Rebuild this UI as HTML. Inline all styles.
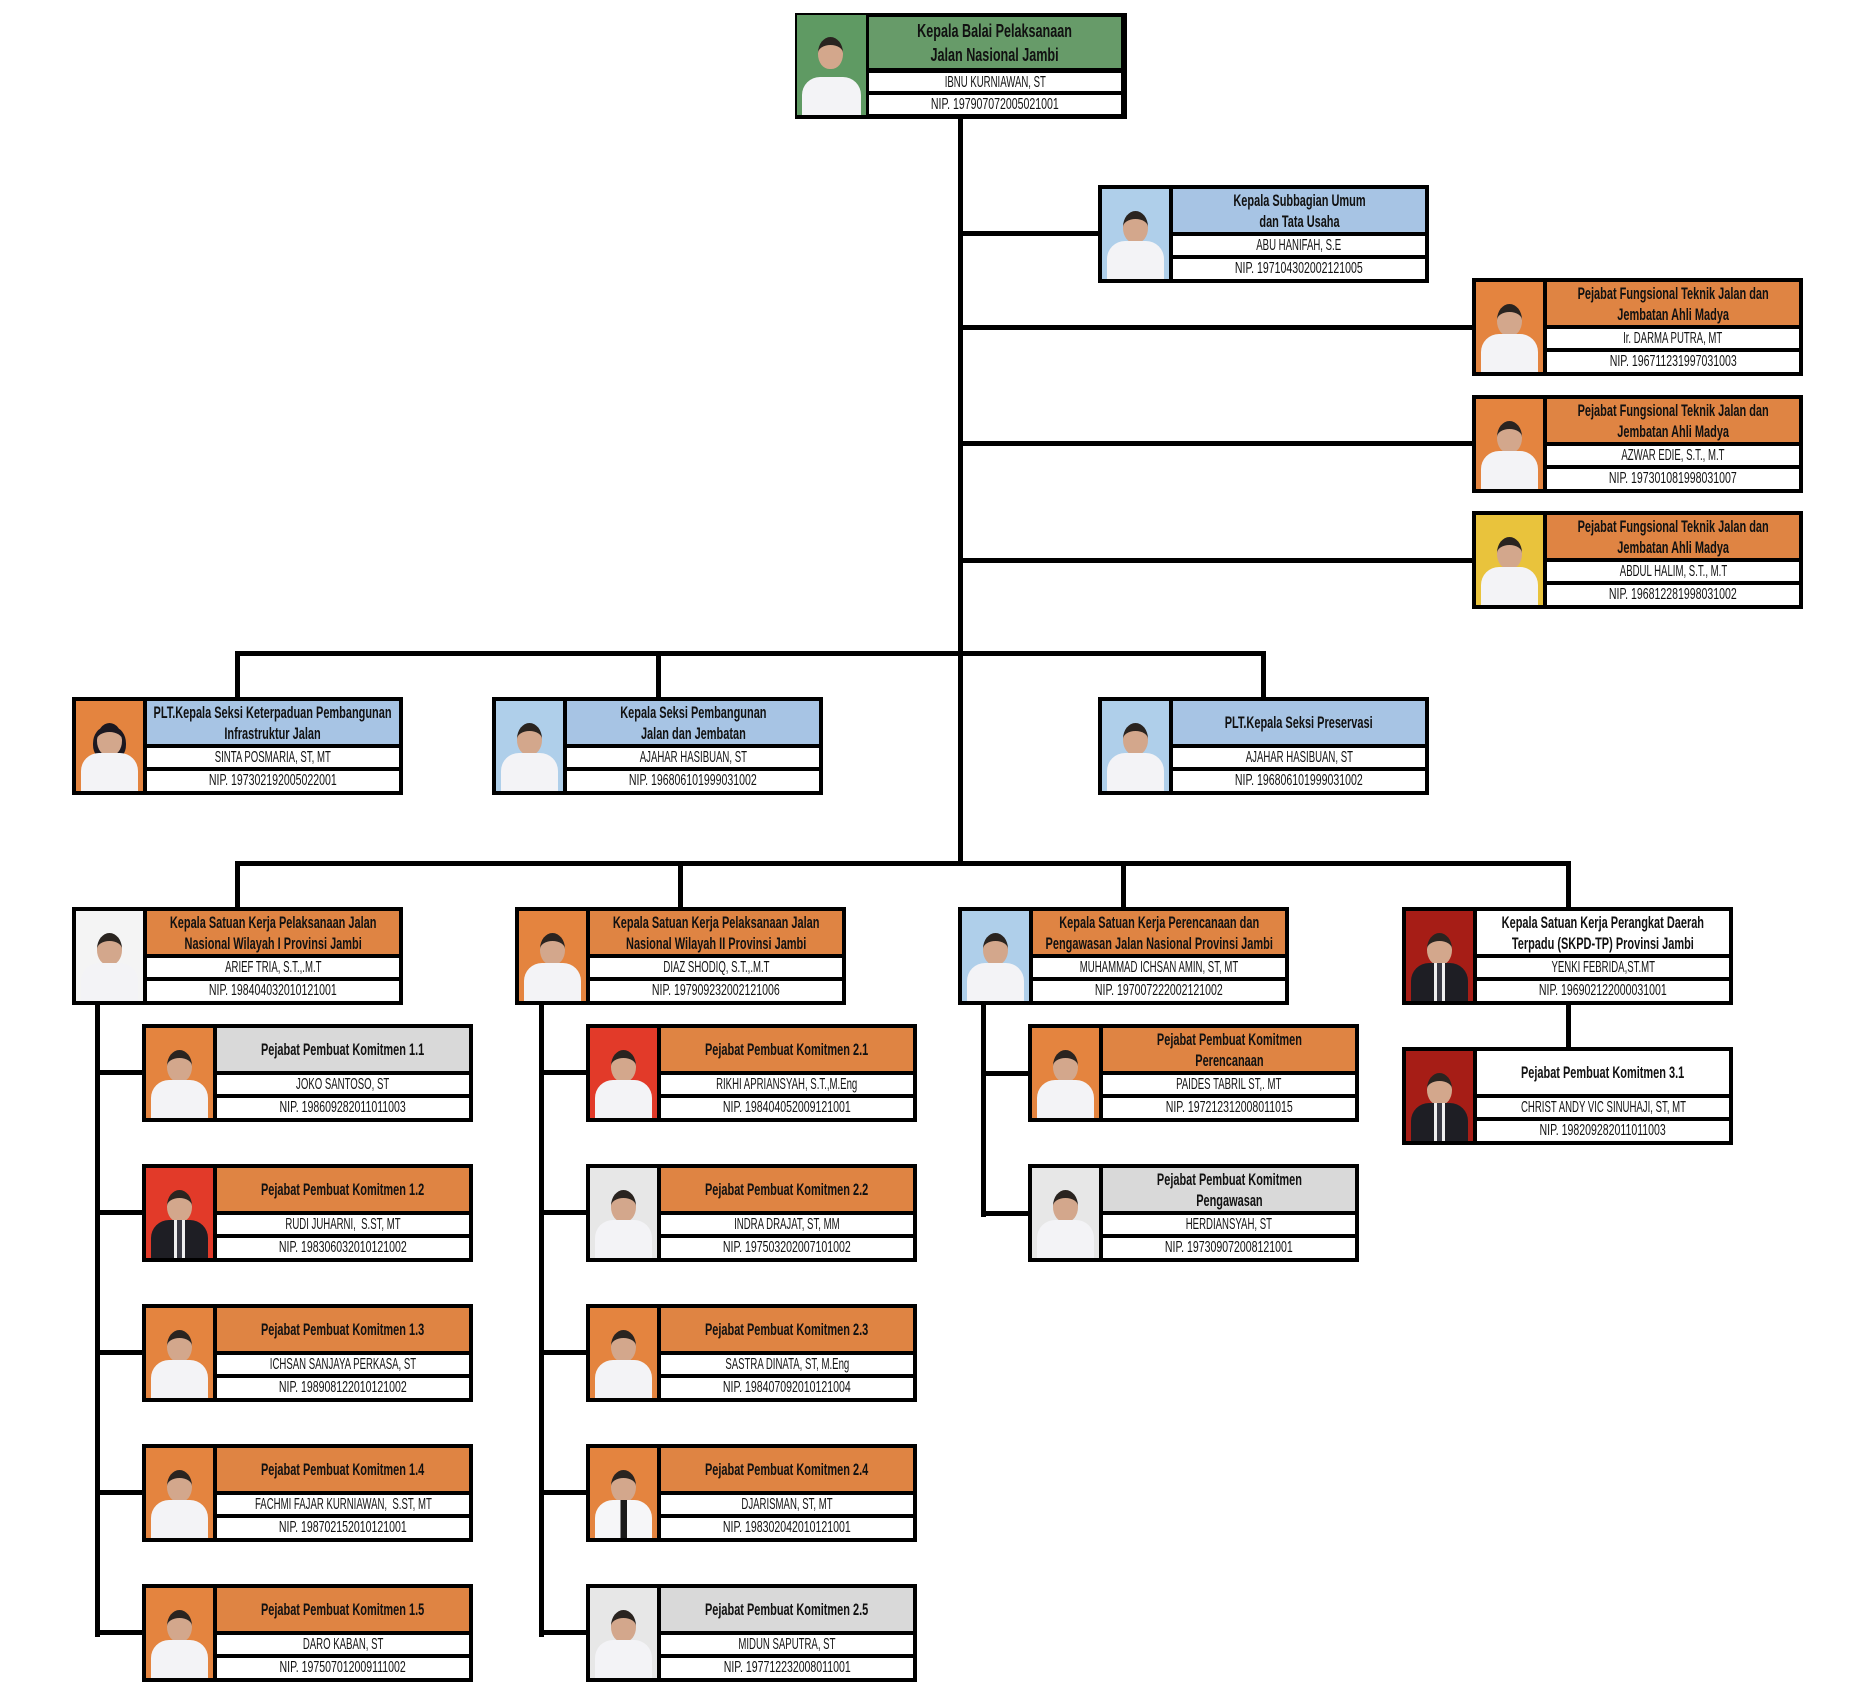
<!DOCTYPE html>
<html><head><meta charset="utf-8">
<style>
html,body{margin:0;padding:0;background:#fff;}
body{width:1858px;height:1696px;position:relative;overflow:hidden;font-family:"Liberation Sans",sans-serif;color:#111;}
.b{position:absolute;width:331px;height:98px;background:#000;}
.ph{position:absolute;left:4px;top:4px;width:67px;height:90px;overflow:hidden;background:#e4843f;}
.ph::before{content:"";position:absolute;left:21px;top:22px;width:25px;height:24px;border-radius:50% 50% 46% 46%;background:#d3a78c;border-top:8px solid #2a2420;}
.ph::after{content:"";position:absolute;left:5px;right:5px;bottom:0;height:38px;border-radius:18px 18px 0 0;background:#f3f3f6;}
.t,.n,.p{position:absolute;left:75px;right:4px;display:flex;align-items:center;justify-content:center;}
.t{top:4px;height:43px;background:#df8443;}
.n{top:51px;height:19px;background:#fff;}
.p{top:74px;height:20px;background:#fff;}
.t span{flex:none;display:block;font-weight:bold;font-size:17px;line-height:21px;white-space:nowrap;text-align:center;transform:scaleX(.645);}
.n span{flex:none;display:block;font-size:16px;line-height:19px;white-space:nowrap;transform:scaleX(.6);}
.p span{flex:none;display:block;font-size:16px;line-height:20px;white-space:nowrap;transform:scaleX(.66);}
.blue{background:#a7c4e4 !important;}
.gray{background:#d9d9d9 !important;}
.white{background:#fff !important;}
.green{background:#679b69 !important;}
.pblue{background:#afcfea;}
.pgray{background:#e7e7e7;}
.pwhite{background:#f4f4f4;}
.pyel{background:#e9c33c;}
.pred{background:#e23a29;}
.pdred{background:#a61d16;}
.suit::after{background:linear-gradient(to right,#1e1e24 0,#1e1e24 40%,#f0f0f0 40%,#f0f0f0 46%,#3a3a44 46%,#3a3a44 54%,#f0f0f0 54%,#f0f0f0 60%,#1e1e24 60%);}
.tie::after{background:linear-gradient(to right,#f6f6f8 0,#f6f6f8 45%,#1a1a1a 45%,#1a1a1a 56%,#f6f6f8 56%);}
.fem::before{border-top:9px solid #1c1820;box-shadow:-4px 4px 0 #1c1820,4px 4px 0 #1c1820;}
.h,.v{position:absolute;background:#000;}
.h{height:5px;}
.v{width:5px;}
</style></head><body>

<!-- connectors -->
<div class="v" style="left:958px;top:116px;height:750px"></div>
<div class="h" style="left:958px;top:231px;width:142px"></div>
<div class="h" style="left:958px;top:325px;width:516px"></div>
<div class="h" style="left:958px;top:441px;width:516px"></div>
<div class="h" style="left:958px;top:558px;width:516px"></div>

<div class="h" style="left:235px;top:651px;width:1030px"></div>
<div class="v" style="left:235px;top:651px;height:48px"></div>
<div class="v" style="left:656px;top:651px;height:48px"></div>
<div class="v" style="left:1261px;top:651px;height:48px"></div>

<div class="h" style="left:235px;top:861px;width:1336px"></div>
<div class="v" style="left:235px;top:861px;height:48px"></div>
<div class="v" style="left:678px;top:861px;height:48px"></div>
<div class="v" style="left:1121px;top:861px;height:48px"></div>
<div class="v" style="left:1566px;top:861px;height:48px"></div>

<div class="v" style="left:95px;top:1003px;height:634px"></div>
<div class="h" style="left:95px;top:1070px;width:49px"></div>
<div class="h" style="left:95px;top:1210px;width:49px"></div>
<div class="h" style="left:95px;top:1350px;width:49px"></div>
<div class="h" style="left:95px;top:1490px;width:49px"></div>
<div class="h" style="left:95px;top:1630px;width:49px"></div>

<div class="v" style="left:539px;top:1003px;height:634px"></div>
<div class="h" style="left:539px;top:1070px;width:49px"></div>
<div class="h" style="left:539px;top:1210px;width:49px"></div>
<div class="h" style="left:539px;top:1350px;width:49px"></div>
<div class="h" style="left:539px;top:1490px;width:49px"></div>
<div class="h" style="left:539px;top:1630px;width:49px"></div>

<div class="v" style="left:981px;top:1003px;height:214px"></div>
<div class="h" style="left:981px;top:1071px;width:49px"></div>
<div class="h" style="left:981px;top:1211px;width:49px"></div>

<div class="v" style="left:1566px;top:1003px;height:46px"></div>

<!-- top box -->
<div class="b" style="left:795px;top:13px;width:332px;height:106px">
  <div class="ph" style="left:2px;top:2px;width:69px;height:100px;background:#5f9a63"></div>
  <div class="t green" style="left:74px;right:6px;top:4px;height:51px"><span style="line-height:24px;font-size:18px;transform:scaleX(.7)">Kepala Balai Pelaksanaan<br>Jalan Nasional Jambi</span></div>
  <div class="n" style="left:74px;right:6px;top:60px;height:18px"><span>IBNU KURNIAWAN, ST</span></div>
  <div class="p" style="left:74px;right:6px;top:82px;height:19px"><span>NIP. 197907072005021001</span></div>
</div>

<!-- subbagian -->
<div class="b" style="left:1098px;top:185px">
  <div class="ph pblue"></div>
  <div class="t blue"><span>Kepala Subbagian Umum<br>dan Tata Usaha</span></div>
  <div class="n"><span>ABU HANIFAH, S.E</span></div>
  <div class="p"><span>NIP. 197104302002121005</span></div>
</div>

<!-- fungsional -->
<div class="b" style="left:1472px;top:278px">
  <div class="ph"></div>
  <div class="t"><span>Pejabat Fungsional Teknik Jalan dan<br>Jembatan Ahli Madya</span></div>
  <div class="n"><span>Ir. DARMA PUTRA, MT</span></div>
  <div class="p"><span>NIP. 196711231997031003</span></div>
</div>
<div class="b" style="left:1472px;top:395px">
  <div class="ph"></div>
  <div class="t"><span>Pejabat Fungsional Teknik Jalan dan<br>Jembatan Ahli Madya</span></div>
  <div class="n"><span>AZWAR EDIE, S.T., M.T</span></div>
  <div class="p"><span>NIP. 197301081998031007</span></div>
</div>
<div class="b" style="left:1472px;top:511px">
  <div class="ph pyel"></div>
  <div class="t"><span>Pejabat Fungsional Teknik Jalan dan<br>Jembatan Ahli Madya</span></div>
  <div class="n"><span>ABDUL HALIM, S.T., M.T</span></div>
  <div class="p"><span>NIP. 196812281998031002</span></div>
</div>

<!-- seksi -->
<div class="b" style="left:72px;top:697px">
  <div class="ph fem"></div>
  <div class="t blue"><span>PLT.Kepala Seksi Keterpaduan Pembangunan<br>Infrastruktur Jalan</span></div>
  <div class="n"><span>SINTA POSMARIA, ST, MT</span></div>
  <div class="p"><span>NIP. 197302192005022001</span></div>
</div>
<div class="b" style="left:492px;top:697px">
  <div class="ph pblue"></div>
  <div class="t blue"><span>Kepala Seksi Pembangunan<br>Jalan dan Jembatan</span></div>
  <div class="n"><span>AJAHAR HASIBUAN, ST</span></div>
  <div class="p"><span>NIP. 196806101999031002</span></div>
</div>
<div class="b" style="left:1098px;top:697px">
  <div class="ph pblue"></div>
  <div class="t blue"><span>PLT.Kepala Seksi Preservasi</span></div>
  <div class="n"><span>AJAHAR HASIBUAN, ST</span></div>
  <div class="p"><span>NIP. 196806101999031002</span></div>
</div>

<!-- satker -->
<div class="b" style="left:72px;top:907px">
  <div class="ph pwhite"></div>
  <div class="t"><span>Kepala Satuan Kerja Pelaksanaan Jalan<br>Nasional Wilayah I Provinsi Jambi</span></div>
  <div class="n"><span>ARIEF TRIA, S.T.,.M.T</span></div>
  <div class="p"><span>NIP. 198404032010121001</span></div>
</div>
<div class="b" style="left:515px;top:907px">
  <div class="ph"></div>
  <div class="t"><span>Kepala Satuan Kerja Pelaksanaan Jalan<br>Nasional Wilayah II Provinsi Jambi</span></div>
  <div class="n"><span>DIAZ SHODIQ, S.T.,.M.T</span></div>
  <div class="p"><span>NIP. 197909232002121006</span></div>
</div>
<div class="b" style="left:958px;top:907px">
  <div class="ph pblue"></div>
  <div class="t"><span>Kepala Satuan Kerja Perencanaan dan<br>Pengawasan Jalan Nasional Provinsi Jambi</span></div>
  <div class="n"><span>MUHAMMAD ICHSAN AMIN, ST, MT</span></div>
  <div class="p"><span>NIP. 197007222002121002</span></div>
</div>
<div class="b" style="left:1402px;top:907px">
  <div class="ph pdred suit"></div>
  <div class="t white"><span>Kepala Satuan Kerja Perangkat Daerah<br>Terpadu (SKPD-TP) Provinsi Jambi</span></div>
  <div class="n"><span>YENKI FEBRIDA,ST.MT</span></div>
  <div class="p"><span>NIP. 196902122000031001</span></div>
</div>

<!-- PPK column 1 -->
<div class="b" style="left:142px;top:1024px">
  <div class="ph"></div>
  <div class="t gray"><span>Pejabat Pembuat Komitmen 1.1</span></div>
  <div class="n"><span>JOKO SANTOSO, ST</span></div>
  <div class="p"><span>NIP. 198609282011011003</span></div>
</div>
<div class="b" style="left:142px;top:1164px">
  <div class="ph pred suit"></div>
  <div class="t"><span>Pejabat Pembuat Komitmen 1.2</span></div>
  <div class="n"><span>RUDI JUHARNI,&nbsp; S.ST, MT</span></div>
  <div class="p"><span>NIP. 198306032010121002</span></div>
</div>
<div class="b" style="left:142px;top:1304px">
  <div class="ph"></div>
  <div class="t"><span>Pejabat Pembuat Komitmen 1.3</span></div>
  <div class="n"><span>ICHSAN SANJAYA PERKASA, ST</span></div>
  <div class="p"><span>NIP. 198908122010121002</span></div>
</div>
<div class="b" style="left:142px;top:1444px">
  <div class="ph"></div>
  <div class="t"><span>Pejabat Pembuat Komitmen 1.4</span></div>
  <div class="n"><span>FACHMI FAJAR KURNIAWAN,&nbsp; S.ST, MT</span></div>
  <div class="p"><span>NIP. 198702152010121001</span></div>
</div>
<div class="b" style="left:142px;top:1584px">
  <div class="ph"></div>
  <div class="t"><span>Pejabat Pembuat Komitmen 1.5</span></div>
  <div class="n"><span>DARO KABAN, ST</span></div>
  <div class="p"><span>NIP. 197507012009111002</span></div>
</div>

<!-- PPK column 2 -->
<div class="b" style="left:586px;top:1024px">
  <div class="ph pred"></div>
  <div class="t"><span>Pejabat Pembuat Komitmen 2.1</span></div>
  <div class="n"><span>RIKHI APRIANSYAH, S.T.,M.Eng</span></div>
  <div class="p"><span>NIP. 198404052009121001</span></div>
</div>
<div class="b" style="left:586px;top:1164px">
  <div class="ph pgray"></div>
  <div class="t"><span>Pejabat Pembuat Komitmen 2.2</span></div>
  <div class="n"><span>INDRA DRAJAT, ST, MM</span></div>
  <div class="p"><span>NIP. 197503202007101002</span></div>
</div>
<div class="b" style="left:586px;top:1304px">
  <div class="ph"></div>
  <div class="t"><span>Pejabat Pembuat Komitmen 2.3</span></div>
  <div class="n"><span>SASTRA DINATA, ST, M.Eng</span></div>
  <div class="p"><span>NIP. 198407092010121004</span></div>
</div>
<div class="b" style="left:586px;top:1444px">
  <div class="ph tie"></div>
  <div class="t"><span>Pejabat Pembuat Komitmen 2.4</span></div>
  <div class="n"><span>DJARISMAN, ST, MT</span></div>
  <div class="p"><span>NIP. 198302042010121001</span></div>
</div>
<div class="b" style="left:586px;top:1584px">
  <div class="ph pgray"></div>
  <div class="t gray"><span>Pejabat Pembuat Komitmen 2.5</span></div>
  <div class="n"><span>MIDUN SAPUTRA, ST</span></div>
  <div class="p"><span>NIP. 197712232008011001</span></div>
</div>

<!-- PPK column 3 -->
<div class="b" style="left:1028px;top:1024px">
  <div class="ph"></div>
  <div class="t"><span>Pejabat Pembuat Komitmen<br>Perencanaan</span></div>
  <div class="n"><span>PAIDES TABRIL ST,. MT</span></div>
  <div class="p"><span>NIP. 197212312008011015</span></div>
</div>
<div class="b" style="left:1028px;top:1164px">
  <div class="ph pgray"></div>
  <div class="t gray"><span>Pejabat Pembuat Komitmen<br>Pengawasan</span></div>
  <div class="n"><span>HERDIANSYAH, ST</span></div>
  <div class="p"><span>NIP. 197309072008121001</span></div>
</div>

<!-- PPK column 4 -->
<div class="b" style="left:1402px;top:1047px">
  <div class="ph pdred suit"></div>
  <div class="t white"><span>Pejabat Pembuat Komitmen 3.1</span></div>
  <div class="n"><span>CHRIST ANDY VIC SINUHAJI, ST, MT</span></div>
  <div class="p"><span>NIP. 198209282011011003</span></div>
</div>

</body></html>
